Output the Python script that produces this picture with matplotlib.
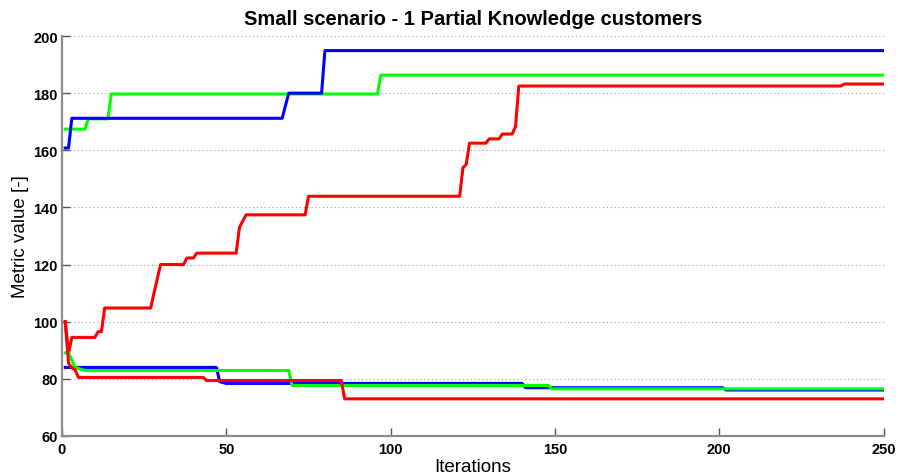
import matplotlib
matplotlib.use('Agg')
from matplotlib import pyplot as plt

# Iteration / metric value vertices for each run
BLUE_HI_X = [1, 2, 3, 67, 69, 79, 80, 250]
BLUE_HI_Y = [160.8, 160.8, 171.2, 171.2, 180.0, 180.0, 194.9, 194.9]

GREEN_HI_X = [1, 7, 8, 14, 15, 96, 97, 250]
GREEN_HI_Y = [167.4, 167.4, 171.0, 171.0, 179.7, 179.7, 186.3, 186.3]

RED_HI_X = [1, 2, 3, 10, 11, 12, 13, 27, 28, 30, 37, 38, 40, 41, 53, 54, 56,
            74, 75, 121, 122, 123, 124, 129, 130, 133, 134, 137, 138, 139,
            237, 238, 250]
RED_HI_Y = [100, 89, 94.5, 94.5, 96.5, 96.5, 104.8, 104.8, 110, 120, 120,
            122.3, 122.3, 124, 124, 133, 137.4, 137.4, 143.9, 143.9, 153.9,
            155, 162.5, 162.5, 164, 164, 165.7, 165.7, 168.3, 182.5, 182.5,
            183.2, 183.2]

BLUE_LO_X = [1, 47, 48, 50, 140, 141, 201, 202, 250]
BLUE_LO_Y = [84.0, 84.0, 79.0, 78.4, 78.4, 76.9, 76.9, 76.1, 76.1]

GREEN_LO_X = [1, 2, 4, 7, 69, 70, 148, 149, 250]
GREEN_LO_Y = [89.1, 89.1, 84.0, 82.9, 82.9, 77.7, 77.7, 76.5, 76.5]

RED_LO_X = [1, 2, 3, 4, 5, 43, 44, 85, 86, 250]
RED_LO_Y = [100, 85.5, 83.8, 83.2, 80.5, 80.5, 79.4, 79.4, 73.0, 73.0]

X_TICKS = [0, 50, 100, 150, 200, 250]
Y_TICKS = [60, 80, 100, 120, 140, 160, 180, 200]

plt.rcParams['font.family'] = ['Liberation Sans', 'DejaVu Sans']

fig = plt.figure(figsize=(8.98, 4.77), dpi=100)
ax = fig.add_axes([0.069, 0.0839, 0.915, 0.8385])

lw = 2.2
ax.plot(GREEN_HI_X, GREEN_HI_Y, color='#00ff00', lw=lw)
ax.plot(BLUE_HI_X, BLUE_HI_Y, color='#0000ff', lw=lw)
ax.plot(RED_HI_X, RED_HI_Y, color='#ff0000', lw=lw)
ax.plot(BLUE_LO_X, BLUE_LO_Y, color='#0000ff', lw=lw)
ax.plot(GREEN_LO_X, GREEN_LO_Y, color='#00ff00', lw=lw)
ax.plot(RED_LO_X, RED_LO_Y, color='#ff0000', lw=lw)

ax.set_xlim(0, 250)
ax.set_ylim(60, 200)
ax.set_xticks(X_TICKS)
ax.set_yticks(Y_TICKS)

# dotted horizontal grid only
ax.yaxis.grid(True, linestyle=(0, (1, 2.5)), color='#999999', lw=0.8)
ax.set_axisbelow(True)

for side in ['top', 'right']:
    ax.spines[side].set_visible(False)
for side in ['left', 'bottom']:
    ax.spines[side].set_color('#8c8c8c')
    ax.spines[side].set_linewidth(1.6)

ax.tick_params(direction='in', length=6, width=1, color='#555555',
               labelsize=10.5, labelcolor='black')
ax.tick_params(axis='x', pad=4)
ax.tick_params(axis='y', pad=3)
for lab in ax.get_xticklabels() + ax.get_yticklabels():
    lab.set_fontweight('bold')

ax.set_title('Small scenario - 1 Partial Knowledge customers',
             fontsize=14.5, fontweight='bold', pad=9)
ax.set_xlabel('Iterations', fontsize=13.5, labelpad=2)
ax.set_ylabel('Metric value [-]', fontsize=13.5, labelpad=3)

fig.savefig('out.png', dpi=100)
